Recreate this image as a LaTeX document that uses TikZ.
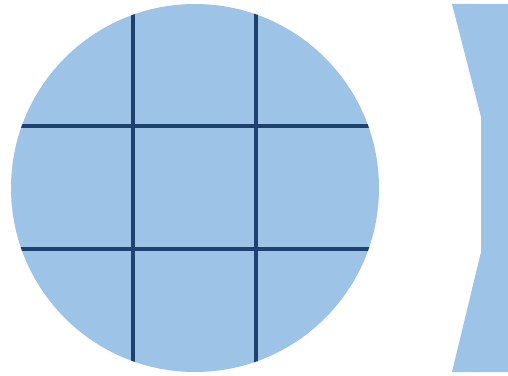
\documentclass[tikz,border=0pt]{standalone}
\usepackage{tikz}
\definecolor{padfill}{HTML}{9DC3E6}
\definecolor{padline}{HTML}{1F416E}

\begin{document}
\begin{tikzpicture}[x=1pt,y=1pt]

\tikzset{
  disc/.style     = {fill=padfill, draw=none},
  gridline/.style = {draw=padline, line width=3.4pt},
  plate/.style    = {fill=padfill, draw=none},
}

\useasboundingbox (0,0) rectangle (508,375);

% round part with its 3x3 grid
\coordinate (c) at (195,187);
\fill[disc] (c) circle (184);
\begin{scope}
  \clip (c) circle (184);
  \foreach \gx in {133,256}
    \draw[gridline] (\gx,0) -- (\gx,375);
  \foreach \gy in {126,249}
    \draw[gridline] (0,\gy) -- (400,\gy);
\end{scope}

% notched piece cut off at the right edge
\fill[plate] (452,371) -- (481,258) -- (481,123) -- (452,3) -- (508,3) -- (508,371) -- cycle;
\end{tikzpicture}
\end{document}
